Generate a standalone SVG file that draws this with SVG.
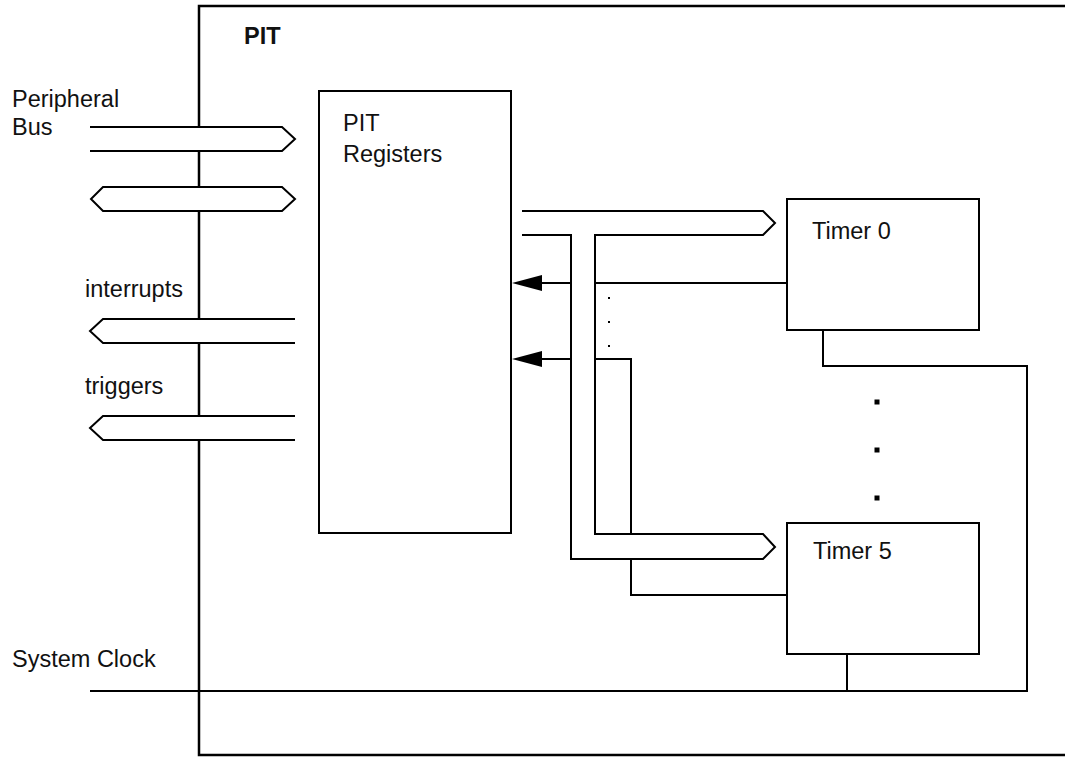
<svg xmlns="http://www.w3.org/2000/svg" width="1065" height="757" viewBox="0 0 1065 757">
<style>
.ln{fill:none;stroke:#000;stroke-width:2}
.box{fill:#fff;stroke:#000;stroke-width:2}
.bus{fill:#fff;stroke:#000;stroke-width:2;stroke-linejoin:miter}
.ah{fill:#000;stroke:none}
.t{font-family:"Liberation Sans",Arial,sans-serif;font-size:23.5px;fill:#111}
.b{font-weight:bold}
</style>
<rect width="1065" height="757" fill="#fff"/>
<g id="pit">
<path d="M1065 6 H199 V755 H1065" fill="none" stroke="#000" stroke-width="2.5"/>
<text class="t b" x="244" y="44">PIT</text>
</g>
<g id="labels">
<text class="t" x="12" y="107">Peripheral</text>
<text class="t" x="12" y="135">Bus</text>
<text class="t" x="85" y="297">interrupts</text>
<text class="t" x="85" y="394">triggers</text>
<text class="t" x="12" y="667">System Clock</text>
</g>
<g id="registers">
<rect class="box" x="319" y="91" width="192" height="442"/>
<text class="t" x="343" y="131">PIT</text>
<text class="t" x="343" y="162">Registers</text>
</g>
<g id="connectors">
<path class="ln" d="M90 691 H1027 V366 H823 V330"/>
<path class="ln" d="M847 691 V654"/>
<path class="ln" d="M787 283 H540"/>
<polygon class="ah" points="512,283 542,275 542,291"/>
<path class="ln" d="M787 595 H631 V359 H540"/>
<polygon class="ah" points="512,359 542,351 542,367"/>
<path class="bus" d="M90 127 H282 L295 139 L282 151 H90"/>
<path class="bus" d="M103 187 H282 L295 199 L282 211 H103 L91 199 Z"/>
<path class="bus" d="M295 319 H103 L90 331 L103 343 H295"/>
<path class="bus" d="M295 416 H103 L90 428 L103 440 H295"/>
<path class="bus" d="M522 211 H763 L775 223 L763 235 H595 V534 H763 L775 547 L763 559 H571 V235 H522"/>
<g fill="#000">
<rect x="608" y="297" width="2" height="2"/>
<rect x="608" y="321" width="2" height="2"/>
<rect x="608" y="345" width="2" height="2"/>
<rect x="874.5" y="399.5" width="5" height="5"/>
<rect x="874.5" y="447.5" width="5" height="5"/>
<rect x="874.5" y="495.5" width="5" height="5"/>
</g>
</g>
<g id="timer0">
<rect class="box" x="787" y="199" width="192" height="131"/>
<text class="t" x="812" y="239">Timer 0</text>
</g>
<g id="timer5">
<rect class="box" x="787" y="523" width="192" height="131"/>
<text class="t" x="813" y="559">Timer 5</text>
</g>
</svg>
